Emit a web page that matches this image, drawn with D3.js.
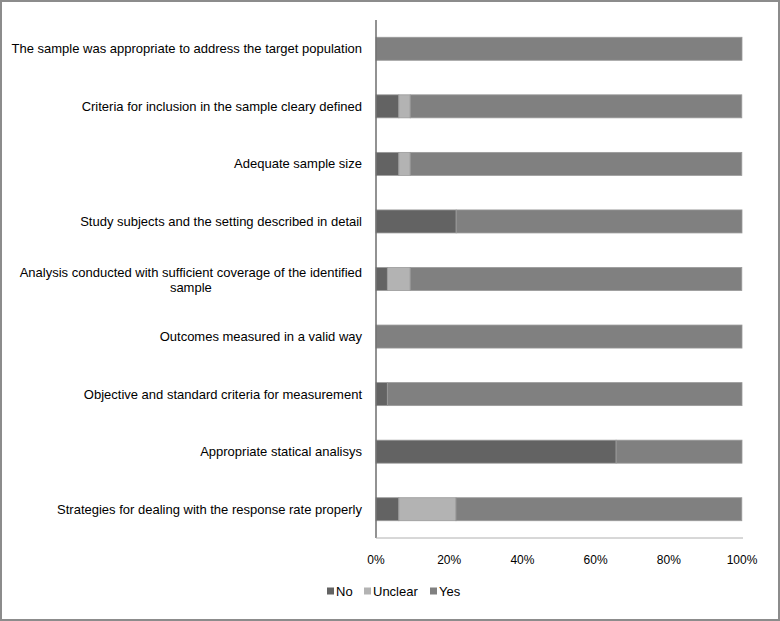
<!DOCTYPE html>
<html>
<head>
<meta charset="utf-8">
<title>Quality assessment</title>
<style>
  body { margin: 0; background: #fff; }
  svg text { font-family: "Liberation Sans Narrow", "Liberation Sans", Arial, sans-serif; fill: #000; }
</style>
</head>
<body>
<div class="plot_container"></div>
<script src="https://cdn.jsdelivr.net/npm/d3@7/dist/d3.min.js"></script>
<script>
// criteria, top to bottom
var categories = [
    "The sample was appropriate to address the target population",
    "Criteria for inclusion in the sample cleary defined",
    "Adequate sample size",
    "Study subjects and the setting described in detail",
    "Analysis conducted with sufficient coverage of the identified|sample",
    "Outcomes measured in a valid way",
    "Objective and standard criteria for measurement",
    "Appropriate statical analisys",
    "Strategies for dealing with the response rate properly"
];
// percent of studies
var no      = [0, 6.25, 6.25, 21.9, 3.1, 0, 3.1, 65.6, 6.25];
var unclear = [0, 3.1, 3.1, 0, 6.25, 0, 0, 0, 15.6];
var yes     = [100, 90.6, 90.6, 78.1, 90.6, 100, 96.9, 34.4, 78.1];
var seriesNames = ["No", "Unclear", "Yes"];
var seriesColors = ["#636363", "#b3b3b3", "#808080"];
var xTicks = [0, 20, 40, 60, 80, 100];

var width = 780, height = 621;
var plotLeft = 376, plotRight = 742, plotTop = 20, plotBottom = 538;

var svg = d3.select(".plot_container").append("svg")
    .attr("width", width)
    .attr("height", height);

// outer frame
svg.append("rect")
    .attr("x", 1).attr("y", 1)
    .attr("width", width - 2).attr("height", height - 2)
    .style("fill", "#fff")
    .style("stroke", "#8c8c8c")
    .style("stroke-width", 2);

var x = d3.scaleLinear().domain([0, 100]).range([plotLeft, plotRight]);
var y = d3.scaleBand().domain(d3.range(categories.length)).range([plotTop, plotBottom]).paddingInner(0.6).paddingOuter(0.3);

var rows = categories.map(function(c, i){
    return {i: i, vals: [no[i], unclear[i], yes[i]]};
});
var stack = d3.stack().keys([0, 1, 2]).value(function(d, k){ return d.vals[k]; });
var layers = stack(rows);

svg.selectAll(".layer")
    .data(layers)
    .enter()
    .append("g")
    .attr("class", "layer")
    .style("fill", function(d, k){ return seriesColors[k]; })
    .selectAll("rect")
    .data(function(d){ return d.filter(function(s){ return s[1] > s[0]; }); })
    .enter()
    .append("rect")
    .attr("x", function(d){ return x(d[0]); })
    .attr("width", function(d){ return x(d[1]) - x(d[0]); })
    .attr("y", function(d){ return y(d.data.i); })
    .attr("height", y.bandwidth())
    .style("stroke", "#9a9a9a")
    .style("stroke-width", 0.8);

// axes lines
svg.append("line")
    .attr("x1", plotLeft).attr("x2", plotLeft)
    .attr("y1", plotTop).attr("y2", plotBottom)
    .style("stroke", "#6e6e6e").style("stroke-width", 1.5);
svg.append("line")
    .attr("x1", plotLeft).attr("x2", plotRight + 1)
    .attr("y1", plotBottom).attr("y2", plotBottom)
    .style("stroke", "#b0b0b0").style("stroke-width", 1);

// x tick labels
svg.selectAll(".xtick")
    .data(xTicks)
    .enter()
    .append("text")
    .attr("class", "xtick")
    .attr("x", function(d){ return x(d); })
    .attr("y", 564)
    .attr("text-anchor", "middle")
    .style("font-size", "12px")
    .text(function(d){ return d + "%"; });

// category labels (right aligned, wrapped lines centred under the first)
var labels = svg.selectAll(".cat")
    .data(categories)
    .enter()
    .append("text")
    .attr("class", "cat")
    .style("font-size", "13px");

labels.each(function(d, i){
    var lines = d.split("|");
    var t = d3.select(this);
    var cy = y(i) + y.bandwidth() / 2;
    if(lines.length == 1){
        t.attr("x", 362).attr("y", cy + 4.5).attr("text-anchor", "end").text(d);
    } else {
        var first = t.append("tspan").attr("x", 362).attr("y", cy - 2).attr("text-anchor", "end").text(lines[0]);
        var w = first.node().getComputedTextLength();
        t.append("tspan").attr("x", 362 - w / 2).attr("y", cy + 13).attr("text-anchor", "middle").text(lines[1]);
    }
});

// legend
var legendX = [327, 364, 430];
var legend = svg.selectAll(".legend")
    .data(seriesNames)
    .enter()
    .append("g")
    .attr("class", "legend")
    .attr("transform", function(d, i){ return "translate(" + legendX[i] + ",591)"; });
legend.append("rect")
    .attr("x", 0).attr("y", -3.5)
    .attr("width", 7).attr("height", 7)
    .style("fill", function(d, i){ return seriesColors[i]; });
legend.append("text")
    .attr("x", 9).attr("y", 4.5)
    .style("font-size", "13px")
    .text(function(d){ return d; });
</script>
</body>
</html>
